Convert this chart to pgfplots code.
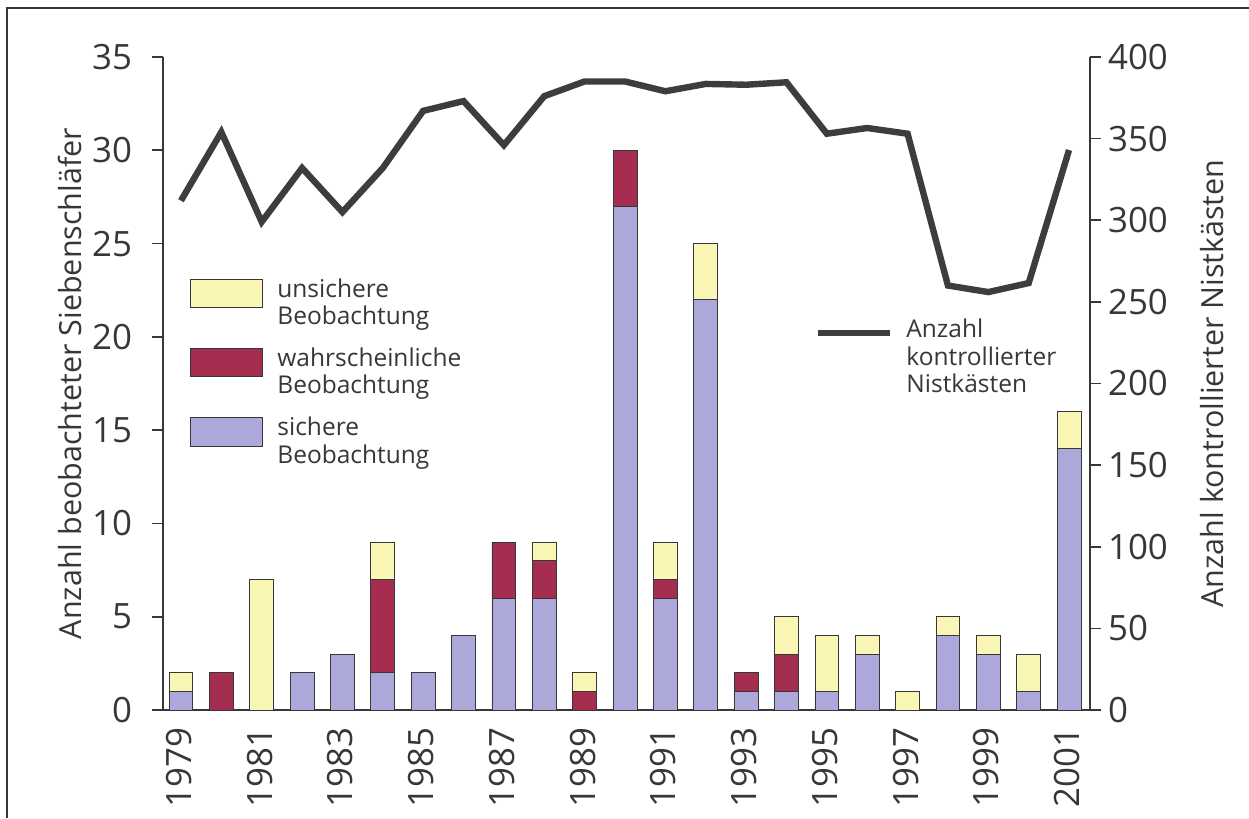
\documentclass[border=0pt]{standalone}
\usepackage{fontspec}
\setmainfont{Open Sans}
\usepackage{pgfplots}
\pgfplotsset{compat=1.18}
\usepackage{pgfplotstable}
\definecolor{cs}{RGB}{172,168,218}
\definecolor{cw}{RGB}{165,45,80}
\definecolor{cu}{RGB}{250,246,182}
\definecolor{cl}{RGB}{60,62,62}
\definecolor{cax}{RGB}{55,55,55}

\pgfplotstableread{
year s w u n
1979 1 0 1 312
1980 0 2 0 354
1981 0 0 7 299
1982 2 0 0 332
1983 3 0 0 305
1984 2 5 2 332
1985 2 0 0 367
1986 4 0 0 373
1987 6 3 0 346
1988 6 2 1 376
1989 0 1 1 385
1990 27 3 0 385
1991 6 1 2 379
1992 22 0 3 383.5
1993 1 1 0 383
1994 1 2 2 384.5
1995 1 0 3 353
1996 3 0 1 356.5
1997 0 0 1 353
1998 4 0 1 260
1999 3 0 1 256
2000 1 0 2 261.5
2001 14 0 2 343
}\data

\pgfplotsset{
  common/.style={
    at={(0,0)}, anchor=south west,
    scale only axis, width=463.5bp, height=326.5bp,
    xmin=1978.555, xmax=2001.52,
    ymin=0,
    tick align=outside,
    major tick length=5.5bp,
    axis line style={cax, line width=0.8bp, -},
    y tick style={cax, line width=0.8bp},
    x tick style={draw=none},
    tick label style={font=\fontsize{17.5}{20}\selectfont, text=cax},
    /pgf/number format/1000 sep={},
    /pgf/number format/assume math mode=true,
  }
}

\begin{document}
\begin{tikzpicture}
\begin{scope}[x=0.5bp,y=-0.5bp,shift={(-163,-710)}]
\useasboundingbox (0,0) rectangle (1249,818);
\draw[cax, line width=1bp] (7,818) -- (7,8) -- (1249,8);
% legend left
\def\lf{\fontsize{12.3}{14}\selectfont}
\filldraw[fill=cu, draw=cax, line width=0.5bp] (190,280) rectangle (262,308);
\filldraw[fill=cw, draw=cax, line width=0.5bp] (190,349) rectangle (262,377);
\filldraw[fill=cs, draw=cax, line width=0.5bp] (190,418) rectangle (262,447);
\node[anchor=base west, inner sep=0, text=cax, font=\lf] at (277,298) {unsichere};
\node[anchor=base west, inner sep=0, text=cax, font=\lf] at (277,325) {Beobachtung};
\node[anchor=base west, inner sep=0, text=cax, font=\lf] at (277,367) {wahrscheinliche};
\node[anchor=base west, inner sep=0, text=cax, font=\lf] at (277,394) {Beobachtung};
\node[anchor=base west, inner sep=0, text=cax, font=\lf] at (277,436) {sichere};
\node[anchor=base west, inner sep=0, text=cax, font=\lf] at (277,463) {Beobachtung};
% legend right
\draw[cl, line width=3bp] (818,333) -- (890,333);
\node[anchor=base west, inner sep=0, text=cax, font=\lf] at (906,338) {Anzahl};
\node[anchor=base west, inner sep=0, text=cax, font=\lf] at (906,366) {kontrollierter};
\node[anchor=base west, inner sep=0, text=cax, font=\lf] at (906,393) {Nistkästen};
\end{scope}

\begin{axis}[common,
  ymax=35,
  axis lines*=left,
  ytick={0,5,...,35},
  xtick={1979,1981,...,2001},
  xticklabel style={rotate=90, anchor=east, yshift=1bp},
  yticklabel style={anchor=east, xshift=-6.5bp},
  ylabel={Anzahl beobachteter Siebenschläfer},
  every axis y label/.style={at={(axis description cs:-0.1003,0.5)}, rotate=90, anchor=center, font=\fontsize{15.3}{18}\selectfont, text=cax},
  ybar stacked, bar width=0.59,
]
\addplot[fill=cs, draw=cax, line width=0.4bp] table[x=year,y=s]{\data};
\addplot[fill=cw, draw=cax, line width=0.4bp] table[x=year,y=w]{\data};
\addplot[fill=cu, draw=cax, line width=0.4bp] table[x=year,y=u]{\data};
\end{axis}

\begin{axis}[common,
  ymax=400,
  axis y line*=right, axis x line=none,
  ytick={0,50,...,400},
  yticklabel style={anchor=west},
  ylabel={Anzahl kontrollierter Nistkästen},
  every axis y label/.style={at={(axis description cs:1.1316,0.5)}, rotate=90, anchor=center, font=\fontsize{15.3}{18}\selectfont, text=cax},
]
\addplot[cl, line width=3.2bp] table[x=year,y=n]{\data};
\end{axis}
\end{tikzpicture}
\end{document}
